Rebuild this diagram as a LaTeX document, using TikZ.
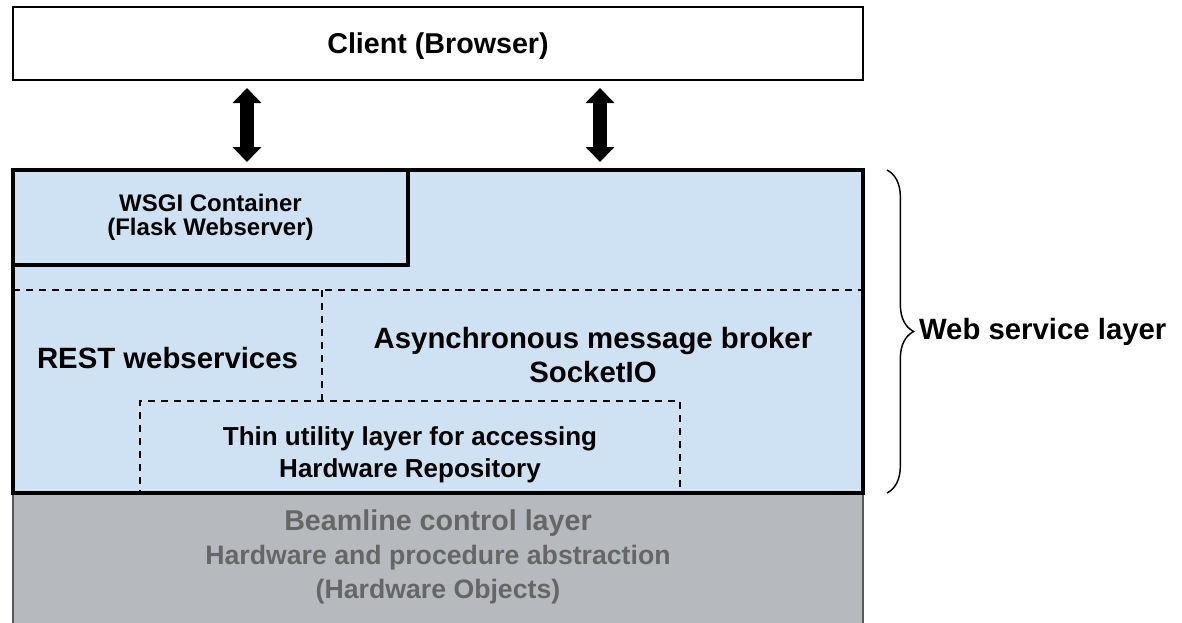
\documentclass[tikz,border=0pt]{standalone}
\usepackage{fontspec}
\setmainfont{Liberation Sans}
\usetikzlibrary{arrows.meta, decorations.pathreplacing, positioning, calc}
\definecolor{LayerBlue}{RGB}{207,226,243}
\definecolor{LayerGray}{RGB}{182,186,191}
\definecolor{TextGray}{RGB}{102,102,102}
\tikzset{
  >=latex,
  % boxes
  layerbox/.style={rectangle,draw=black,inner sep=0pt,outer sep=0pt},
  client box/.style={layerbox,line width=1.5pt,fill=white,minimum width=637.5pt,minimum height=54.75pt,
    text depth=0pt,font=\bfseries\fontsize{21.5pt}{25pt}\selectfont},
  web box/.style={layerbox,line width=3pt,fill=LayerBlue,minimum width=637.5pt,minimum height=242.25pt},
  base box/.style={layerbox,draw=black!65,line width=1pt,fill=LayerGray,minimum width=637.5pt,minimum height=99.75pt},
  wsgi box/.style={layerbox,line width=3pt,minimum width=296.25pt,minimum height=71.25pt,align=center,
    font=\bfseries\fontsize{18pt}{18pt}\selectfont},
  util box/.style={layerbox,dash pattern=on 5.25pt off 4.5pt,line width=1.3pt,minimum width=405pt,minimum height=69pt},
  % texts
  layer text/.style={align=center,inner sep=0pt,font=\bfseries\fontsize{22pt}{25.5pt}\selectfont},
  util text/.style={layer text,font=\bfseries\fontsize{19.5pt}{24pt}\selectfont},
  base text/.style={layer text,text=TextGray,font=\bfseries\fontsize{20pt}{25.5pt}\selectfont},
  % connections
  dbl arrow/.style={arrows={Triangle[width=21pt,length=11.25pt]-Triangle[width=21pt,length=11.25pt]},
    line width=10.5pt,shorten <=6pt,shorten >=6pt},
  dash line/.style={dash pattern=on 5.25pt off 4.5pt,line width=1.3pt},
  layer brace/.style={decorate,decoration={brace,amplitude=20pt},line width=1.1pt}
}
\begin{document}
\begin{tikzpicture}[x=0.75pt,y=-0.75pt]
  \useasboundingbox (0,0) rectangle (1182,622);
  % layers
  \node[base box] (base) at (438,559.5) {};
  \node[web box] (web) at (438,331.5) {};
  \node[client box] (client) at (438,43.5) {Client (Browser)};
  \node[wsgi box] (wsgi) at (210.5,217.5) {WSGI Container\\(Flask Webserver)};
  % inner split
  \coordinate (cut) at (322,290);
  \draw[dash line] (web.west |- cut) -- (web.east |- cut);
  \node[util box] (util) at (410,447) {};
  \draw[dash line,line width=1pt] (cut) -- (cut |- util.north);
  \node[util text,yshift=-6pt] (utiltext) at (util.center) {Thin utility layer for accessing\\Hardware Repository};
  \node[layer text] (rest) at (167.5,358) {REST webservices};
  \node[layer text] (broker) at (593,355) {Asynchronous message broker\\SocketIO};
  \node[base text] (basetext) at (438,557) {{\fontsize{21.5pt}{25.5pt}\selectfont Beamline control layer}\\Hardware and procedure abstraction\\(Hardware Objects)};
  % links to the client
  \coordinate (restlink) at (247,0);
  \coordinate (socketlink) at (600,0);
  \draw[dbl arrow] (client.south -| restlink) -- (web.north -| restlink);
  \draw[dbl arrow] (client.south -| socketlink) -- (web.north -| socketlink);
  % brace
  \draw[layer brace] ([xshift=18pt]web.north east) -- ([xshift=18pt]web.south east)
    node[midway,right=23.5pt,layer text] (wsl) {Web service layer};
\end{tikzpicture}
\end{document}
